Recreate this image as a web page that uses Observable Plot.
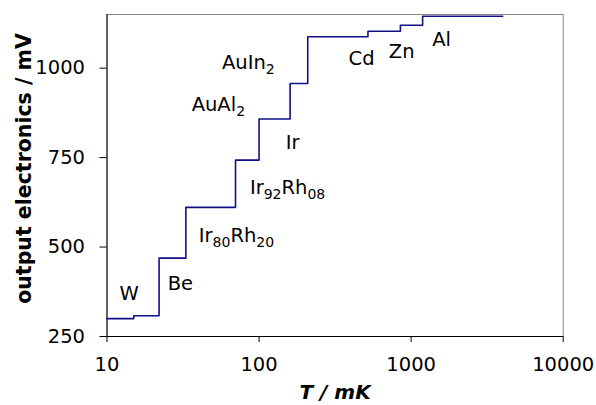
<!DOCTYPE html>
<html><head><meta charset="utf-8">
<script src="https://cdn.jsdelivr.net/npm/d3@7"></script>
<script src="https://cdn.jsdelivr.net/npm/@observablehq/plot@0.6"></script>
<style>body{margin:0;background:#fff}</style>
</head><body><div id="chart"></div>
<script>
// Step positions (T in mK) and output levels (mV)
const temps = [10, 15, 22, 33, 70, 100, 160, 209, 520, 850, 1190, 4000];
const outputs = [300, 308, 469, 611, 743, 858, 957, 1088, 1103, 1120, 1145, 1145];
// Annotation labels with their positions in data units
const labels = ["W", "Be", "Ir₈₀Rh₂₀", "Ir₉₂Rh₀₈", "Ir", "AuAl₂", "AuIn₂", "Cd", "Zn", "Al"];
const labelT = [14, 30.4, 71, 154, 166, 54, 85, 472, 866, 1585];
const labelV = [370, 398, 532, 666, 792, 898, 1016, 1027, 1046, 1080];
const xTicks = [10, 100, 1000, 10000];
const yTicks = [250, 500, 750, 1000];

const steps = temps.map((t, i) => ({t, v: outputs[i]}));
const notes = labels.map((l, i) => ({l, t: labelT[i], v: labelV[i]}));
const FS = 19.5;

const chart = Plot.plot({
  width: 596, height: 405,
  marginLeft: 106.5, marginRight: 33.3, marginTop: 14, marginBottom: 69,
  style: {fontFamily: "'DejaVu Sans', Verdana, sans-serif", fontSize: FS + "px", color: "#000", background: "#fff", overflow: "visible"},
  x: {type: "log", domain: [10, 10000]},
  y: {domain: [250, 1150]},
  marks: [
    Plot.frame({stroke: "#888"}),
    Plot.ruleX([10], {stroke: "#000"}),
    Plot.ruleY([250], {stroke: "#000"}),
    Plot.axisX({ticks: xTicks, tickSize: 6, tickPadding: 15, tickFormat: d => String(d), label: null, stroke: "#000", fontSize: FS}),
    Plot.axisY({ticks: yTicks, tickSize: 7, tickPadding: 15, tickFormat: d => String(d), label: null, stroke: "#000", fontSize: FS}),
    Plot.line(steps, {x: "t", y: "v", curve: "step-after", stroke: "#10108a", strokeWidth: 1.6}),
    Plot.text(notes, {x: "t", y: "v", text: "l", fontSize: FS, fill: "#000"}),
    Plot.text(["T / mK"], {frameAnchor: "bottom", dy: 62, fontWeight: "bold", fontStyle: "italic", fontSize: 20, fill: "#000"}),
    Plot.text(["output electronics / mV"], {frameAnchor: "left", textAnchor: "middle", dx: -83, dy: -7, rotate: -90, fontWeight: "bold", fontSize: 20.5, fill: "#000"})
  ]
});

// Render Unicode subscript digits as real lowered, smaller text
const subMap = {"₀":"0","₁":"1","₂":"2","₃":"3","₄":"4","₅":"5","₆":"6","₇":"7","₈":"8","₉":"9"};
chart.querySelectorAll("text").forEach(el => {
  const s = el.textContent;
  if (!/[₀-₉]/.test(s)) return;
  el.textContent = "";
  const runs = s.match(/[₀-₉]+|[^₀-₉]+/g);
  const shift = FS * 0.28;
  let down = false;
  runs.forEach(r => {
    const ts = document.createElementNS("http://www.w3.org/2000/svg", "tspan");
    const isSub = /[₀-₉]/.test(r);
    if (isSub) {
      ts.textContent = r.split("").map(c => subMap[c]).join("");
      ts.setAttribute("font-size", FS * 0.72);
      if (!down) { ts.setAttribute("dy", shift); down = true; }
    } else {
      ts.textContent = r;
      if (down) { ts.setAttribute("dy", -shift); down = false; }
    }
    el.appendChild(ts);
  });
});
document.getElementById("chart").append(chart);
</script>
</body></html>
